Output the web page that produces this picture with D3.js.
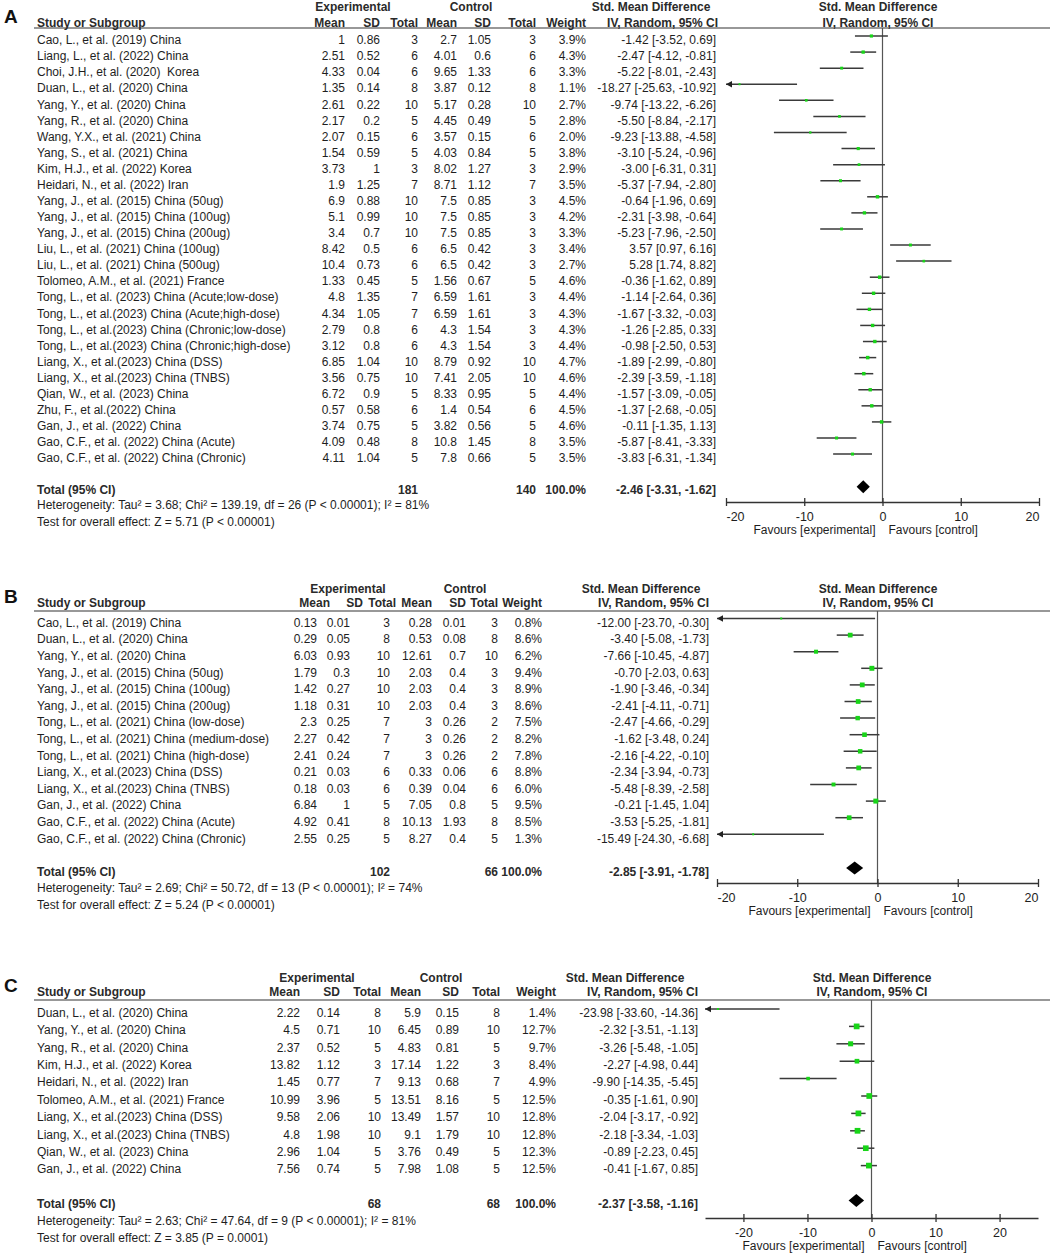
<!DOCTYPE html>
<html>
<head>
<meta charset="utf-8">
<script src="https://cdn.jsdelivr.net/npm/d3@7"></script>
<style>
  body { margin: 0; background: #fff; }
  svg text { font-family: "Liberation Sans", Arial, sans-serif; white-space: pre; }
</style>
</head>
<body>
<svg id="chart" width="1052" height="1256"></svg>
<script>
// ---------- Panel A ----------
const namesA = [
  'Cao, L., et al. (2019) China', 'Liang, L., et al. (2022) China', 'Choi, J.H., et al. (2020)  Korea',
  'Duan, L., et al. (2020) China', 'Yang, Y., et al. (2020) China', 'Yang, R., et al. (2020) China',
  'Wang, Y.X., et al. (2021) China', 'Yang, S., et al. (2021) China', 'Kim, H.J., et al. (2022) Korea',
  'Heidari, N., et al. (2022) Iran', 'Yang, J., et al. (2015) China (50ug)', 'Yang, J., et al. (2015) China (100ug)',
  'Yang, J., et al. (2015) China (200ug)', 'Liu, L., et al. (2021) China (100ug)', 'Liu, L., et al. (2021) China (500ug)',
  'Tolomeo, A.M., et al. (2021) France', 'Tong, L., et al. (2023) China (Acute;low-dose)',
  'Tong, L., et al.(2023) China (Acute;high-dose)', 'Tong, L., et al.(2023) China (Chronic;low-dose)',
  'Tong, L., et al.(2023) China (Chronic;high-dose)', 'Liang, X., et al.(2023) China (DSS)',
  'Liang, X., et al.(2023) China (TNBS)', 'Qian, W., et al. (2023) China', 'Zhu, F., et al.(2022) China',
  'Gan, J., et al. (2022) China', 'Gao, C.F., et al. (2022) China (Acute)', 'Gao, C.F., et al. (2022) China (Chronic)'
];
// [mean, sd, total]
const expA = [
  [1, 0.86, 3], [2.51, 0.52, 6], [4.33, 0.04, 6], [1.35, 0.14, 8], [2.61, 0.22, 10], [2.17, 0.2, 5],
  [2.07, 0.15, 6], [1.54, 0.59, 5], [3.73, 1, 3], [1.9, 1.25, 7], [6.9, 0.88, 10], [5.1, 0.99, 10],
  [3.4, 0.7, 10], [8.42, 0.5, 6], [10.4, 0.73, 6], [1.33, 0.45, 5], [4.8, 1.35, 7], [4.34, 1.05, 7],
  [2.79, 0.8, 6], [3.12, 0.8, 6], [6.85, 1.04, 10], [3.56, 0.75, 10], [6.72, 0.9, 5], [0.57, 0.58, 6],
  [3.74, 0.75, 5], [4.09, 0.48, 8], [4.11, 1.04, 5]
];
const ctlA = [
  [2.7, 1.05, 3], [4.01, 0.6, 6], [9.65, 1.33, 6], [3.87, 0.12, 8], [5.17, 0.28, 10], [4.45, 0.49, 5],
  [3.57, 0.15, 6], [4.03, 0.84, 5], [8.02, 1.27, 3], [8.71, 1.12, 7], [7.5, 0.85, 3], [7.5, 0.85, 3],
  [7.5, 0.85, 3], [6.5, 0.42, 3], [6.5, 0.42, 3], [1.56, 0.67, 5], [6.59, 1.61, 3], [6.59, 1.61, 3],
  [4.3, 1.54, 3], [4.3, 1.54, 3], [8.79, 0.92, 10], [7.41, 2.05, 10], [8.33, 0.95, 5], [1.4, 0.54, 6],
  [3.82, 0.56, 5], [10.8, 1.45, 8], [7.8, 0.66, 5]
];
const weightA = [3.9, 4.3, 3.3, 1.1, 2.7, 2.8, 2.0, 3.8, 2.9, 3.5, 4.5, 4.2, 3.3, 3.4, 2.7, 4.6, 4.4, 4.3, 4.3, 4.4, 4.7, 4.6, 4.4, 4.5, 4.6, 3.5, 3.5];
// [smd, lower, upper]
const smdA = [
  [-1.42, -3.52, 0.69], [-2.47, -4.12, -0.81], [-5.22, -8.01, -2.43], [-18.27, -25.63, -10.92],
  [-9.74, -13.22, -6.26], [-5.50, -8.84, -2.17], [-9.23, -13.88, -4.58], [-3.10, -5.24, -0.96],
  [-3.00, -6.31, 0.31], [-5.37, -7.94, -2.80], [-0.64, -1.96, 0.69], [-2.31, -3.98, -0.64],
  [-5.23, -7.96, -2.50], [3.57, 0.97, 6.16], [5.28, 1.74, 8.82], [-0.36, -1.62, 0.89],
  [-1.14, -2.64, 0.36], [-1.67, -3.32, -0.03], [-1.26, -2.85, 0.33], [-0.98, -2.50, 0.53],
  [-1.89, -2.99, -0.80], [-2.39, -3.59, -1.18], [-1.57, -3.09, -0.05], [-1.37, -2.68, -0.05],
  [-0.11, -1.35, 1.13], [-5.87, -8.41, -3.33], [-3.83, -6.31, -1.34]
];
// [exp total, ctl total, weight, smd, lower, upper]
const totalA = [181, 140, 100.0, -2.46, -3.31, -1.62];
const statsA = [
  'Heterogeneity: Tau² = 3.68; Chi² = 139.19, df = 26 (P < 0.00001); I² = 81%',
  'Test for overall effect: Z = 5.71 (P < 0.00001)'
];

// ---------- Panel B ----------
const namesB = [
  'Cao, L., et al. (2019) China', 'Duan, L., et al. (2020) China', 'Yang, Y., et al. (2020) China',
  'Yang, J., et al. (2015) China (50ug)', 'Yang, J., et al. (2015) China (100ug)', 'Yang, J., et al. (2015) China (200ug)',
  'Tong, L., et al. (2021) China (low-dose)', 'Tong, L., et al. (2021) China (medium-dose)',
  'Tong, L., et al. (2021) China (high-dose)', 'Liang, X., et al.(2023) China (DSS)',
  'Liang, X., et al.(2023) China (TNBS)', 'Gan, J., et al. (2022) China',
  'Gao, C.F., et al. (2022) China (Acute)', 'Gao, C.F., et al. (2022) China (Chronic)'
];
const expB = [
  [0.13, 0.01, 3], [0.29, 0.05, 8], [6.03, 0.93, 10], [1.79, 0.3, 10], [1.42, 0.27, 10], [1.18, 0.31, 10],
  [2.3, 0.25, 7], [2.27, 0.42, 7], [2.41, 0.24, 7], [0.21, 0.03, 6], [0.18, 0.03, 6], [6.84, 1, 5],
  [4.92, 0.41, 8], [2.55, 0.25, 5]
];
const ctlB = [
  [0.28, 0.01, 3], [0.53, 0.08, 8], [12.61, 0.7, 10], [2.03, 0.4, 3], [2.03, 0.4, 3], [2.03, 0.4, 3],
  [3, 0.26, 2], [3, 0.26, 2], [3, 0.26, 2], [0.33, 0.06, 6], [0.39, 0.04, 6], [7.05, 0.8, 5],
  [10.13, 1.93, 8], [8.27, 0.4, 5]
];
const weightB = [0.8, 8.6, 6.2, 9.4, 8.9, 8.6, 7.5, 8.2, 7.8, 8.8, 6.0, 9.5, 8.5, 1.3];
const smdB = [
  [-12.00, -23.70, -0.30], [-3.40, -5.08, -1.73], [-7.66, -10.45, -4.87], [-0.70, -2.03, 0.63],
  [-1.90, -3.46, -0.34], [-2.41, -4.11, -0.71], [-2.47, -4.66, -0.29], [-1.62, -3.48, 0.24],
  [-2.16, -4.22, -0.10], [-2.34, -3.94, -0.73], [-5.48, -8.39, -2.58], [-0.21, -1.45, 1.04],
  [-3.53, -5.25, -1.81], [-15.49, -24.30, -6.68]
];
const totalB = [102, 66, 100.0, -2.85, -3.91, -1.78];
const statsB = [
  'Heterogeneity: Tau² = 2.69; Chi² = 50.72, df = 13 (P < 0.00001); I² = 74%',
  'Test for overall effect: Z = 5.24 (P < 0.00001)'
];

// ---------- Panel C ----------
const namesC = [
  'Duan, L., et al. (2020) China', 'Yang, Y., et al. (2020) China', 'Yang, R., et al. (2020) China',
  'Kim, H.J., et al. (2022) Korea', 'Heidari, N., et al. (2022) Iran', 'Tolomeo, A.M., et al. (2021) France',
  'Liang, X., et al.(2023) China (DSS)', 'Liang, X., et al.(2023) China (TNBS)',
  'Qian, W., et al. (2023) China', 'Gan, J., et al. (2022) China'
];
const expC = [
  [2.22, 0.14, 8], [4.5, 0.71, 10], [2.37, 0.52, 5], [13.82, 1.12, 3], [1.45, 0.77, 7],
  [10.99, 3.96, 5], [9.58, 2.06, 10], [4.8, 1.98, 10], [2.96, 1.04, 5], [7.56, 0.74, 5]
];
const ctlC = [
  [5.9, 0.15, 8], [6.45, 0.89, 10], [4.83, 0.81, 5], [17.14, 1.22, 3], [9.13, 0.68, 7],
  [13.51, 8.16, 5], [13.49, 1.57, 10], [9.1, 1.79, 10], [3.76, 0.49, 5], [7.98, 1.08, 5]
];
const weightC = [1.4, 12.7, 9.7, 8.4, 4.9, 12.5, 12.8, 12.8, 12.3, 12.5];
const smdC = [
  [-23.98, -33.60, -14.36], [-2.32, -3.51, -1.13], [-3.26, -5.48, -1.05], [-2.27, -4.98, 0.44],
  [-9.90, -14.35, -5.45], [-0.35, -1.61, 0.90], [-2.04, -3.17, -0.92], [-2.18, -3.34, -1.03],
  [-0.89, -2.23, 0.45], [-0.41, -1.67, 0.85]
];
const totalC = [68, 68, 100.0, -2.37, -3.58, -1.16];
const statsC = [
  'Heterogeneity: Tau² = 2.63; Chi² = 47.64, df = 9 (P < 0.00001); I² = 81%',
  'Test for overall effect: Z = 3.85 (P = 0.0001)'
];

// axis settings
const ticksAB = [-20, -10, 0, 10, 20];
const ticksC = [-20, -10, 0, 10, 20];
const domainAB = [-20, 20];
const domainC = [-26, 26];

const colHeads = ['Mean', 'SD', 'Total', 'Mean', 'SD', 'Total', 'Weight', 'IV, Random, 95% CI'];

// layout per panel (pixel positions only)
const panels = [
  { label: 'A', labelY: 16, names: namesA, exp: expA, ctl: ctlA, weight: weightA, smd: smdA, total: totalA, stats: statsA,
    domain: domainAB, ticks: ticksAB, range: [726, 1039], h1: 7, h2: 23, rule: 28, row0: 40, step: 16.08, lineOff: -4,
    axisY: 502, hetY: 505,
    cols: [345, 380, 418, 457, 491, 536, 586, 716], heads: [345, 380, 418, 457, 491, 536, 586, 718],
    grp: [353, 471, 651], plotMid: 878 },
  { label: 'B', labelY: 596, names: namesB, exp: expB, ctl: ctlB, weight: weightB, smd: smdB, total: totalB, stats: statsB,
    domain: domainAB, ticks: ticksAB, range: [717, 1038], h1: 589, h2: 603, rule: 611, row0: 622.5, step: 16.6, lineOff: -4,
    axisY: 883, hetY: 888,
    cols: [317, 350, 390, 432, 466, 498, 542, 709], heads: [330, 363, 396, 432, 466, 498, 542, 709],
    grp: [348, 465, 641], plotMid: 878 },
  { label: 'C', labelY: 985, names: namesC, exp: expC, ctl: ctlC, weight: weightC, smd: smdC, total: totalC, stats: statsC,
    domain: domainC, ticks: ticksC, range: [705, 1038], h1: 978, h2: 992, rule: 1000, row0: 1012.5, step: 17.4, lineOff: -3.5,
    axisY: 1218, hetY: 1221,
    cols: [300, 340, 381, 421, 459, 500, 556, 698], heads: [300, 340, 381, 421, 459, 500, 556, 698],
    grp: [317, 441, 625], plotMid: 872 }
];

const svg = d3.select('#chart');
const TXT = '#1e1e1e';
const markSize = d3.scaleSqrt().domain([0, 13]).range([0, 5.8]);

function label(g, x, y, str, anchor, bold) {
  return g.append('text')
    .attr('x', x).attr('y', y).attr('dy', '0.35em')
    .attr('text-anchor', anchor || 'start')
    .attr('font-size', 12)
    .attr('font-weight', bold ? 'bold' : 'normal')
    .attr('fill', bold ? '#2a2a2a' : TXT)
    .text(str);
}

function drawPanel(p) {
  const g = svg.append('g');
  const x = d3.scaleLinear().domain(p.domain).range(p.range);
  const n = p.names.length;
  const rowY = d3.scaleLinear().domain([0, 1]).range([p.row0, p.row0 + p.step]);
  const c = p.cols;

  // panel letter
  g.append('text').attr('x', 4).attr('y', p.labelY).attr('dy', '0.36em')
    .attr('font-size', 19).attr('font-weight', 'bold').attr('fill', '#111').text(p.label);

  // headers
  label(g, p.grp[0], p.h1, 'Experimental', 'middle', true);
  label(g, p.grp[1], p.h1, 'Control', 'middle', true);
  label(g, p.grp[2], p.h1, 'Std. Mean Difference', 'middle', true);
  label(g, p.plotMid, p.h1, 'Std. Mean Difference', 'middle', true);
  label(g, 37, p.h2, 'Study or Subgroup', 'start', true);
  colHeads.forEach((h, i) => label(g, p.heads[i], p.h2, h, 'end', true));
  label(g, p.plotMid, p.h2, 'IV, Random, 95% CI', 'middle', true);

  g.append('line').attr('x1', 34).attr('x2', 1050).attr('y1', p.rule).attr('y2', p.rule)
    .attr('stroke', '#333').attr('stroke-width', 1.2);

  // study rows
  p.names.forEach((name, i) => {
    const y = rowY(i);
    const e = p.exp[i], k = p.ctl[i], s = p.smd[i];
    label(g, 37, y, name);
    label(g, c[0], y, String(e[0]), 'end');
    label(g, c[1], y, String(e[1]), 'end');
    label(g, c[2], y, String(e[2]), 'end');
    label(g, c[3], y, String(k[0]), 'end');
    label(g, c[4], y, String(k[1]), 'end');
    label(g, c[5], y, String(k[2]), 'end');
    label(g, c[6], y, p.weight[i].toFixed(1) + '%', 'end');
    label(g, c[7], y, `${s[0].toFixed(2)} [${s[1].toFixed(2)}, ${s[2].toFixed(2)}]`, 'end');
  });

  // total row
  const t = p.total, ty = rowY(n + 1);
  label(g, 37, ty, 'Total (95% CI)', 'start', true);
  label(g, c[2], ty, String(t[0]), 'end', true);
  label(g, c[5], ty, String(t[1]), 'end', true);
  label(g, c[6], ty, t[2].toFixed(1) + '%', 'end', true);
  label(g, c[7], ty, `${t[3].toFixed(2)} [${t[4].toFixed(2)}, ${t[5].toFixed(2)}]`, 'end', true);
  label(g, 37, p.hetY, p.stats[0]);
  label(g, 37, p.hetY + 16.5, p.stats[1]);

  // zero line
  g.append('line').attr('x1', x(0)).attr('x2', x(0)).attr('y1', p.rule).attr('y2', p.axisY)
    .attr('stroke', '#555').attr('stroke-width', 1.2);

  // CI lines + arrows
  const lo = p.domain[0], hi = p.domain[1];
  const ci = g.append('g');
  p.smd.forEach((s, i) => {
    const y = rowY(i) + p.lineOff;
    const a = Math.max(s[1], lo), b = Math.min(s[2], hi);
    ci.append('line').attr('x1', x(a)).attr('x2', x(b)).attr('y1', y).attr('y2', y)
      .attr('stroke', '#3a3a3a').attr('stroke-width', 1.5);
    if (s[1] < lo) {
      const tx = x(lo);
      ci.append('path').attr('d', `M${tx},${y}L${tx + 6},${y - 3.2}L${tx + 6},${y + 3.2}Z`).attr('fill', '#222');
    }
    if (s[2] > hi) {
      const tx = x(hi);
      ci.append('path').attr('d', `M${tx},${y}L${tx - 6},${y - 3.2}L${tx - 6},${y + 3.2}Z`).attr('fill', '#222');
    }
  });

  // weighted markers
  const side = w => Math.max(2, markSize(w));
  g.append('g').selectAll('rect').data(p.smd).join('rect')
    .attr('x', (d, i) => x(d[0]) - side(p.weight[i]) / 2)
    .attr('y', (d, i) => rowY(i) + p.lineOff - side(p.weight[i]) / 2)
    .attr('width', (d, i) => side(p.weight[i]))
    .attr('height', (d, i) => side(p.weight[i]))
    .attr('fill', '#18d418');

  // pooled diamond
  const dy = ty - 3.5;
  g.append('path')
    .attr('d', `M${x(t[4])},${dy}L${x(t[3])},${dy - 6.5}L${x(t[5])},${dy}L${x(t[3])},${dy + 6.5}Z`)
    .attr('fill', '#000');

  // axis
  const axis = d3.axisBottom(x).tickValues(p.ticks).tickSizeInner(4).tickSizeOuter(0)
    .tickPadding(6).tickFormat(d => String(d));
  const ag = g.append('g').attr('transform', `translate(0,${p.axisY})`).call(axis);
  ag.select('.domain').attr('stroke', '#333').attr('stroke-width', 1.3);
  ag.selectAll('.tick line').attr('y1', -4).attr('stroke', '#333').attr('stroke-width', 1.3);
  ag.selectAll('.tick text')
    .attr('font-size', 12.5).attr('fill', TXT)
    .attr('font-family', '"Liberation Sans", Arial, sans-serif')
    .attr('text-anchor', d => d === lo ? 'start' : d === hi ? 'end' : 'middle');

  label(g, x(0) - 7, p.axisY + 28, 'Favours [experimental]', 'end');
  label(g, x(0) + 6, p.axisY + 28, 'Favours [control]', 'start');
}

panels.forEach(drawPanel);
</script>
</body>
</html>
